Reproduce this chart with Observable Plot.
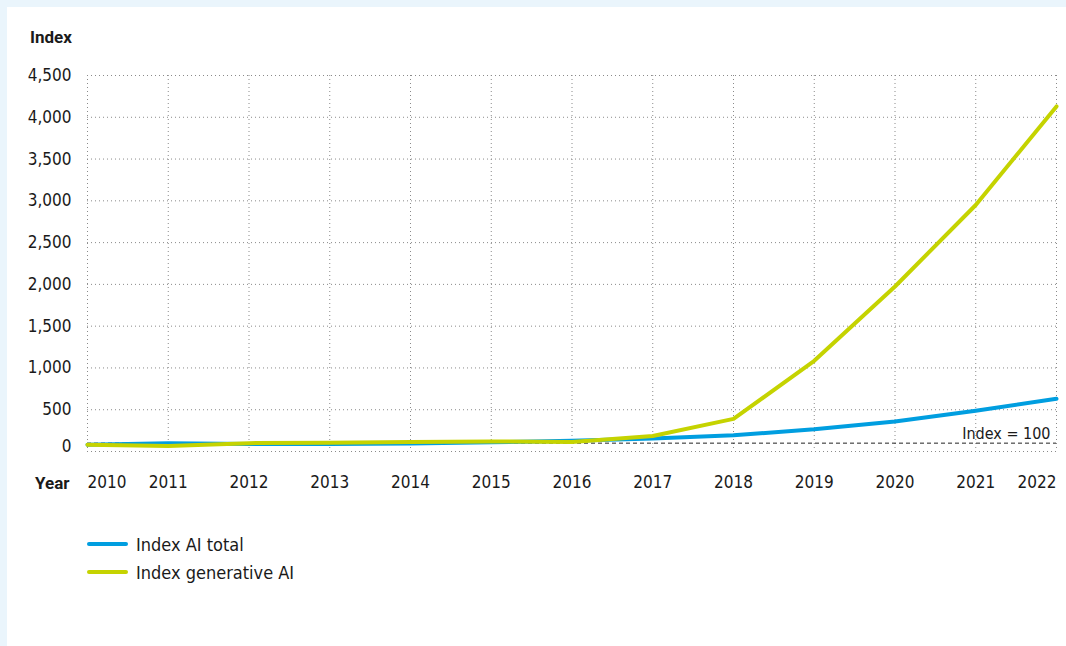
<!DOCTYPE html>
<html><head><meta charset="utf-8">
<script src="https://cdn.jsdelivr.net/npm/d3@7"></script>
<script src="https://cdn.jsdelivr.net/npm/@observablehq/plot@0.6"></script>
<style>
html,body{margin:0;padding:0;}
body{width:1066px;height:646px;background:#eaf5fc;position:relative;overflow:hidden;font-family:"DejaVu Sans Condensed",sans-serif;color:#1a1a1a;}
#panel{position:absolute;left:7px;top:7px;right:0;bottom:0;background:#fff;}
#title{position:absolute;left:30px;top:27px;font-weight:bold;font-size:17px;font-family:Roboto,"DejaVu Sans Condensed",sans-serif;}
#chart{position:absolute;left:0;top:60px;}
#legend{position:absolute;left:87px;top:530px;}
.item{display:flex;align-items:center;height:28px;font-size:18px;}
.sw{width:41px;height:4px;border-radius:2px;margin-right:8px;}
</style></head>
<body>
<div id="panel"></div>
<div id="title">Index</div>
<div id="chart"></div>
<div id="legend"></div>
<script>
const years = [2010, 2011, 2012, 2013, 2014, 2015, 2016, 2017, 2018, 2019, 2020, 2021, 2022];
const aiTotal = [80, 100, 90, 90, 95, 110, 130, 155, 195, 265, 360, 488, 632];
const genAI = [80, 65, 100, 105, 115, 120, 115, 185, 390, 1085, 1975, 2950, 4130];
const yTicks = [0, 500, 1000, 1500, 2000, 2500, 3000, 3500, 4000, 4500];
const seriesNames = ["Index AI total", "Index generative AI"];
const seriesColors = ["#009ee0", "#c5d300"];
const refValue = 100;
const refLabel = "Index = 100";

const data = [];
years.forEach((y, i) => data.push({year: y, value: aiTotal[i], series: seriesNames[0]}));
years.forEach((y, i) => data.push({year: y, value: genAI[i], series: seriesNames[1]}));

const font = '"DejaVu Sans Condensed",sans-serif';
const boldFont = 'Roboto,"DejaVu Sans Condensed",sans-serif';
const grid = {stroke: "#8a8a8a", strokeOpacity: 1, strokeDasharray: "1,3", strokeWidth: 1};

const chart = Plot.plot({
  width: 1066, height: 440,
  marginLeft: 87, marginRight: 10, marginTop: 15, marginBottom: 49,
  x: {domain: [2010, 2022]},
  y: {domain: [0, 4500]},
  color: {domain: seriesNames, range: seriesColors},
  style: {fontFamily: font, fontSize: "17px", color: "#1a1a1a", background: "transparent", overflow: "visible"},
  marks: [
    Plot.gridX(years, grid),
    Plot.gridY(yTicks, grid),
    Plot.ruleY([refValue], {stroke: "#222", strokeDasharray: "4,3", strokeWidth: 1}),
    Plot.line(data, {x: "year", y: "value", stroke: "series", strokeWidth: 4, curve: "linear"}),
    Plot.text([refLabel], {x: years[years.length - 1], y: refValue, textAnchor: "end", lineAnchor: "bottom", dx: -6, dy: -4, fill: "#1a1a1a", fontSize: 16}),
    Plot.axisY(yTicks.filter(d => d > 0), {tickSize: 0, tickPadding: 16, tickFormat: d3.format(","), label: null}),
    Plot.axisY([0], {tickSize: 0, tickPadding: 16, dy: -5, label: null}),
    Plot.axisX(years.slice(1, -1), {tickSize: 0, tickPadding: 24, tickFormat: d => String(d), label: null}),
    Plot.axisX([years[0]], {tickSize: 0, tickPadding: 24, tickFormat: d => String(d), textAnchor: "start", label: null}),
    Plot.axisX([years[years.length - 1]], {tickSize: 0, tickPadding: 24, tickFormat: d => String(d), textAnchor: "end", label: null}),
    Plot.text(["Year"], {frameAnchor: "bottom-left", textAnchor: "end", lineAnchor: "middle", dx: -18, dy: 32, fontWeight: "bold", fontSize: 17, fontFamily: boldFont})
  ]
});
document.getElementById("chart").appendChild(chart);

const legend = document.getElementById("legend");
seriesNames.forEach((n, i) => {
  const item = document.createElement("div");
  item.className = "item";
  item.innerHTML = `<span class="sw" style="background:${seriesColors[i]}"></span><span>${n}</span>`;
  legend.appendChild(item);
});
</script>
</body></html>
